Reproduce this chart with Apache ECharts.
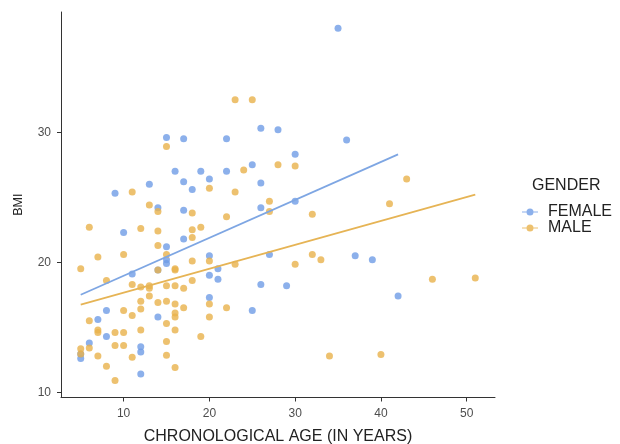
<!DOCTYPE html>
<html>
<head>
<meta charset="utf-8">
<script src="https://cdn.jsdelivr.net/npm/echarts@6/dist/echarts.min.js"></script>
<style>html,body{margin:0;padding:0;background:#fff;}#c{width:620px;height:444px;}</style>
</head>
<body>
<div id="c"></div>
<script>
var seriesNames = ['FEMALE', 'MALE'];
var femalePoints = [
  [15,29.6],[17,29.5],[16,27],[19,27],[20,26.4],[13,26],[17,26.2],[18,25.6],[9,25.3],[14,24.2],
  [17,24],[10,22.3],[17,21.8],[15,21.2],[15,20.2],[15,19.9],[20,20.5],[14,19.4],[11,19.1],[20,19.0],
  [21,19.5],[21,18.7],[20,17.3],[8,16.3],[14,15.8],[7,15.6],[8,14.3],[6,13.8],[12,13.5],[12,13.1],
  [5,12.95],[5,12.6],[12,11.4],[26,30.3],[28,30.2],[22,29.5],[36,29.4],[30,28.3],[25,27.5],[22,27.0],
  [26,26.1],[26,24.2],[30,24.7],[27,20.6],[37,20.5],[39,20.2],[26,18.3],[29,18.2],[25,16.3],[35,38],
  [42,17.4]
];
var malePoints = [
  [15,28.9],[20,25.7],[11,25.4],[13,24.4],[14,23.9],[18,23.8],[6,22.7],[12,22.6],[14,22.4],[18,22.5],
  [19,22.7],[18,21.9],[14,21.3],[7,20.4],[10,20.6],[15,20.6],[20,20.1],[5,19.5],[14,19.4],[16,19.5],
  [16,19.4],[18,20.1],[8,18.6],[11,18.3],[12,18.1],[13,18.2],[13,18.0],[15,18.2],[16,18.2],[17,18.0],
  [18,18.6],[20,16.8],[20,15.8],[12,17.0],[13,17.4],[14,16.9],[15,17.0],[16,16.8],[17,16.5],[10,16.3],
  [12,16.4],[11,15.9],[16,16.1],[16,15.8],[6,15.5],[15,15.3],[7,14.8],[7,14.6],[9,14.6],[10,14.6],
  [12,14.8],[16,14.8],[19,14.3],[9,13.6],[10,13.6],[15,13.9],[5,13.35],[6,13.4],[5,12.95],[7,12.8],
  [11,12.7],[15,12.85],[8,12.0],[16,11.9],[9,10.9],[23,32.5],[25,32.5],[30,27.4],[28,27.5],[24,27.1],
  [23,25.4],[27,24.7],[27,23.9],[22,23.5],[32,23.7],[23,19.85],[30,19.85],[32,20.6],[33,20.2],[22,16.5],
  [34,12.8],[43,26.4],[41,24.5],[46,18.7],[51,18.8],[40,12.9]
];
var femaleFit = [[5,17.5],[42,28.3]];
var maleFit = [[5,16.75],[51,25.2]];
var xTicks = [10,20,30,40,50];
var yTicks = [10,20,30];

var blue = '#6f9ce6', orange = '#e8b14b';
var blueLine = '#7ea6e3', orangeLine = '#e6b455';
var font = 'Liberation Sans, Arial, Helvetica, sans-serif';
var legendIcon = 'path://M0,4.4L16,4.4L16,5.6L0,5.6Z M8,1.5A3.5,3.5 0 1,1 8,8.5A3.5,3.5 0 1,1 8,1.5Z';

var chart = echarts.init(document.getElementById('c'), null, {renderer:'canvas'});
chart.setOption({
  animation: false,
  backgroundColor: '#fff',
  textStyle: {fontFamily: font},
  title: {
    text: 'GENDER', left: 532, top: 178, padding: 0,
    textStyle: {fontFamily: font, fontSize: 16, fontWeight: 'normal', color: '#222'}
  },
  legend: {
    data: [{name: seriesNames[0], icon: legendIcon}, {name: seriesNames[1], icon: legendIcon}],
    orient: 'vertical', left: 522, top: 204, padding: 0,
    itemWidth: 16, itemHeight: 10, itemGap: 0,
    textStyle: {fontFamily: font, fontSize: 16, lineHeight: 14, color: '#222', padding: [0,0,0,5]}
  },
  grid: {left: 61, right: 125, top: 12, bottom: 46.5, containLabel: false, outerBoundsMode: 'none'},
  xAxis: {
    type: 'value', min: 2.7, max: 53.3,
    name: 'CHRONOLOGICAL AGE (IN YEARS)', nameLocation: 'middle', nameGap: 31,
    nameTextStyle: {fontFamily: font, fontSize: 16, color: '#222'},
    axisLine: {show: true, lineStyle: {color: '#333', width: 1}},
    axisTick: {show: true, length: 4, customValues: xTicks, lineStyle: {color: '#333'}},
    axisLabel: {customValues: xTicks, fontSize: 12, color: '#4d4d4d', margin: 10, fontFamily: font},
    splitLine: {show: false}
  },
  yAxis: {
    type: 'value', min: 9.6, max: 39.25,
    name: 'BMI', nameLocation: 'middle', nameGap: 36, nameRotate: 90,
    nameTextStyle: {fontFamily: font, fontSize: 12.5, color: '#222'},
    axisLine: {show: true, lineStyle: {color: '#333', width: 1}},
    axisTick: {show: true, length: 4, customValues: yTicks, lineStyle: {color: '#333'}},
    axisLabel: {customValues: yTicks, fontSize: 12, color: '#4d4d4d', margin: 10, fontFamily: font},
    splitLine: {show: false}
  },
  series: [
    {name: seriesNames[0], type: 'scatter', data: femalePoints, symbolSize: 7,
     itemStyle: {color: blue}, z: 2},
    {name: seriesNames[1], type: 'scatter', data: malePoints, symbolSize: 7,
     itemStyle: {color: orange}, z: 2},
    {name: 'FEMALE fit', type: 'line', data: femaleFit, showSymbol: false, symbol: 'none',
     lineStyle: {color: blueLine, width: 1.8}, z: 3},
    {name: 'MALE fit', type: 'line', data: maleFit, showSymbol: false, symbol: 'none',
     lineStyle: {color: orangeLine, width: 1.8}, z: 3}
  ]
});
</script>
</body>
</html>
